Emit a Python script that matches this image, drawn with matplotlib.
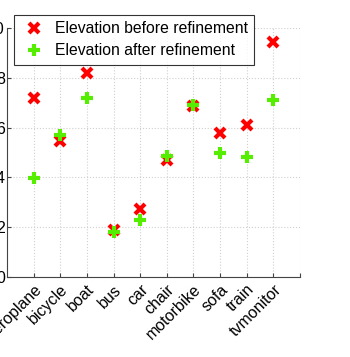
import matplotlib.pyplot as plt

plt.rcParams['font.family'] = ['Liberation Sans', 'DejaVu Sans']

# Categorias e valores
categorias = ["aeroplane", "bicycle", "boat", "bus", "car", "chair",
              "motorbike", "sofa", "train", "tvmonitor"]
antes = [7.2, 5.45, 8.2, 1.9, 2.75, 4.7, 6.85, 5.8, 6.1, 9.45]
depois = [3.98, 5.7, 7.2, 1.8, 2.3, 4.85, 6.9, 5.0, 4.82, 7.1]
yticks = [0, 2, 4, 6, 8, 10]

posicoes = list(range(1, len(categorias) + 1))

fig = plt.figure(figsize=(3.5, 3.57), dpi=100)
ax = fig.add_axes([7 / 350, 1 - 277 / 357, 293 / 350, 249 / 357])

ax.plot(posicoes, antes, "x", color="#ff0000", markersize=7, markeredgewidth=3,
        linestyle="none", label="Elevation before refinement")
ax.plot(posicoes, depois, "+", color="#55ee00", markersize=9, markeredgewidth=3,
        linestyle="none", label="Elevation after refinement")

ax.set_xlim(0, 11)
ax.set_ylim(0, 10)
ax.set_xticks(posicoes + [11])
ax.set_xticklabels(categorias + [""], rotation=45, ha="right", rotation_mode="anchor",
                   fontsize=11.5)
ax.set_yticks(yticks)
ax.set_yticklabels([str(v) for v in yticks], fontsize=11.5)
ax.tick_params(direction="in", length=3, color="#444444")
ax.tick_params(axis="y", pad=1.5)

ax.grid(True, linestyle=":", color="#d0d0d0", linewidth=0.8)
ax.spines["top"].set_visible(False)
ax.spines["right"].set_visible(False)
for s in ["left", "bottom"]:
    ax.spines[s].set_color("#444444")
    ax.spines[s].set_linewidth(0.8)

leg = ax.legend(loc="upper left", bbox_to_anchor=(7 / 293, 1.0 + 13 / 249),
                borderaxespad=0, fontsize=11.3, frameon=True, fancybox=False,
                handletextpad=0.5, borderpad=0.4, labelspacing=0.45,
                handlelength=1.7)
leg.get_frame().set_edgecolor("black")
leg.get_frame().set_linewidth(0.8)

fig.savefig("out.png", dpi=100)
